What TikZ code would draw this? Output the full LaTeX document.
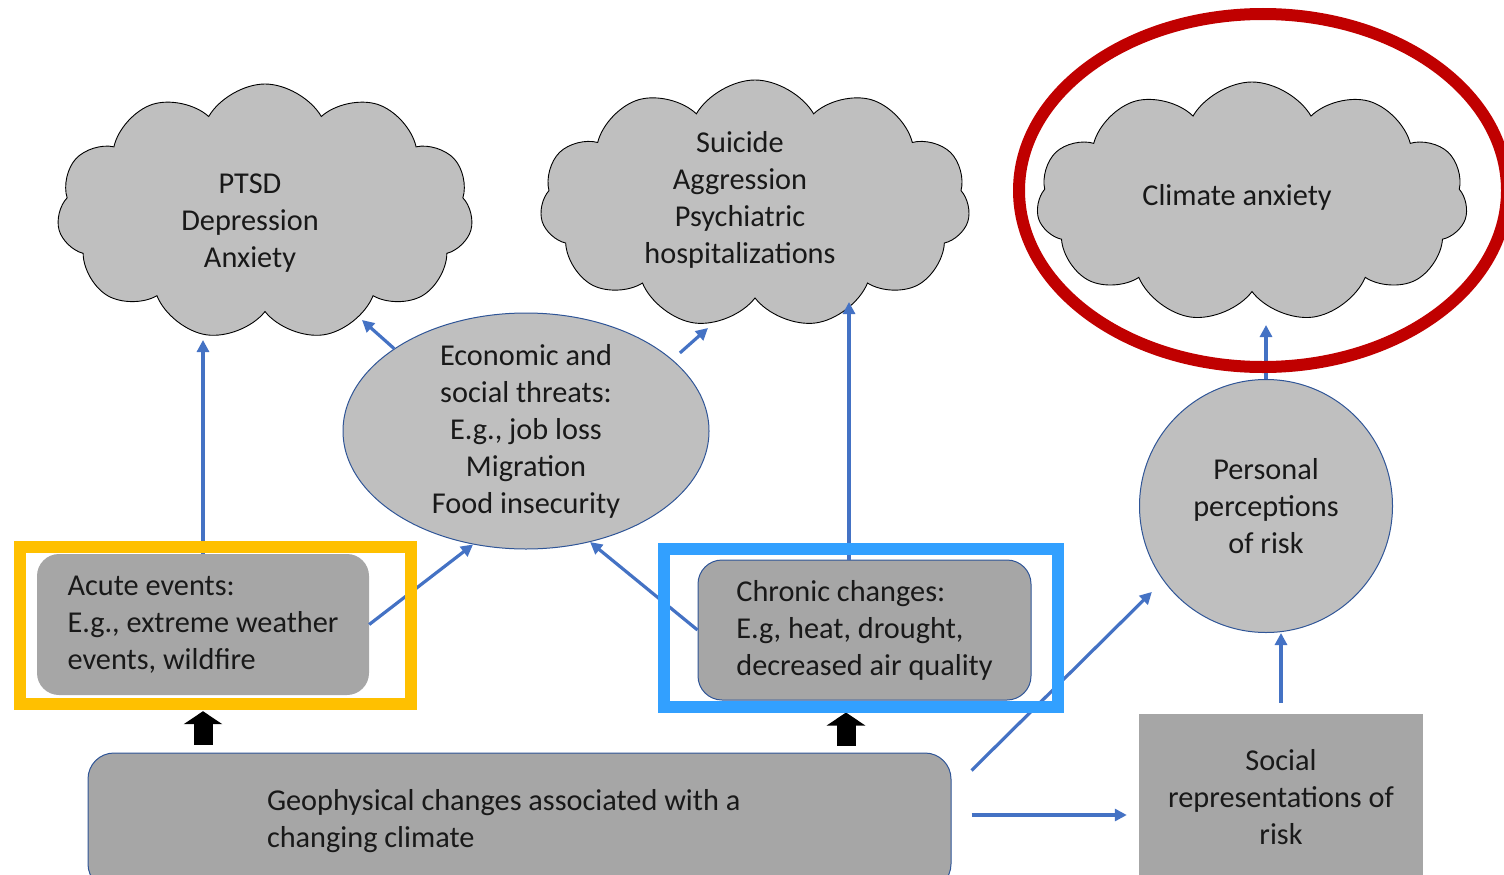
\documentclass[tikz,border=0pt]{standalone}
\usepackage{fontspec}
\setmainfont{Carlito}
\usepackage{tikz}
\usetikzlibrary{calc, arrows.meta, shapes.symbols, shapes.geometric}

\definecolor{cloudgray}{HTML}{BFBFBF}
\definecolor{boxgray}{HTML}{A6A6A6}
\definecolor{linkblue}{HTML}{4472C4}
\definecolor{edgeblue}{HTML}{2F5597}
\definecolor{markred}{HTML}{C00000}
\definecolor{markyellow}{HTML}{FFC000}
\definecolor{markblue}{RGB}{50,160,255}

\begin{document}
\begin{tikzpicture}[x=1pt,y=-1pt,
    txt/.style={align=center, text=black!90, font=\fontsize{30.3}{37}\selectfont},
    puff/.style={cloud, cloud puffs=11, cloud puff arc=120, draw=black, line width=0.9pt, fill=cloudgray, inner sep=0pt},
    bubble/.style={txt, draw=edgeblue, line width=1pt, fill=cloudgray, inner sep=-10pt},
    box/.style={txt, fill=boxgray, inner sep=0pt},
    link/.style={linkblue, line width=3.2pt, -{Triangle[length=12pt,width=12pt]}},
    bigarrow/.style={black, line width=19pt, -{Triangle[length=13pt,width=38pt]}},
    highlight/.style={line width=12pt}]
      \useasboundingbox (0,0) rectangle (1504,875);
      % clouds
      \node[puff, minimum width=416pt, minimum height=256pt] (ptsd) at (265,212) {};
      \node[txt] (ptsdtxt) at (250,223) {PTSD\\Depression\\Anxiety};
      \node[puff, minimum width=430pt, minimum height=248pt] (suicide) at (755,204) {};
      \node[txt] (suicidetxt) at (740,200) {Suicide\\Aggression\\Psychiatric\\hospitalizations};
      \node[puff, minimum width=431pt, minimum height=240pt] (climate) at (1252,202) {};
      \node[txt] (climatetxt) at (1237,197) {Climate anxiety};
      % ellipse and circle
      \node[bubble, ellipse, minimum width=366pt, minimum height=236pt] (econ) at (526,431) {Economic and\\social threats:\\E.g., job loss\\Migration\\Food insecurity};
      \node[bubble, circle, inner sep=0pt, minimum size=253pt] (pers) at (1266,506) {Personal\\perceptions\\of risk};
      % boxes
      \node[box, rounded corners=22pt, minimum width=332pt, minimum height=141pt, align=left] (acute) at (203,624.5) {Acute events:\\E.g., extreme weather\\events, wildfire};
      \node[box, draw=edgeblue, line width=1pt, rounded corners=24pt, minimum width=333pt, minimum height=140pt, align=left] (chronic) at (864.5,630) {Chronic changes:\\E.g, heat, drought,\\decreased air quality};
      \node[box, draw=edgeblue, line width=1pt, rounded corners=26pt, minimum width=863pt, minimum height=137pt, text width=505pt, align=flush left] (geo) at (519.5,821.5) {Geophysical changes associated with a\\changing climate};
      \node[box, minimum width=284pt, minimum height=166pt] (social) at (1281,797) {Social\\representations of\\risk};
      % arrow tips that stop short
      \coordinate (ptsdtip) at (362,320);
      \coordinate (suicidetip) at (708,328);
      % blue links
      \draw[link, shorten >=128pt] (acute) -- (acute |- ptsd.center);
      \draw[link] (econ.148) -- (ptsdtip);
      \draw[link, shorten <=10pt] (econ.26) -- (suicidetip);
      \draw[link, shorten >=98pt] ($(chronic.north)+(-15.5,0)$) coordinate (c) -- (c |- suicide.center);
      \draw[link] (acute.east) -- (econ.245);
      \draw[link] (chronic.west) -- (econ.300);
      \draw[link, shorten >=16pt] ($(geo.north east)+(20,18)$) -- (pers.216);
      \draw[link, shorten >=12pt] ($(geo.east)+(20,-6.5)$) coordinate (g) -- (g -| social.west);
      \draw[link] ($(social.north)+(0,-11)$) coordinate (s) -- (s |- pers.south);
      \draw[link, shorten >=123pt] (pers) -- (pers |- climate.center);
      % black block arrows
      \draw[bigarrow, shorten <=8pt, shorten >=16pt] (acute |- geo.north) -- (acute);
      \path ($(chronic.south)+(-18.5,0)$) coordinate (k);
      \draw[bigarrow, shorten <=7pt, shorten >=12pt] (k |- geo.north) -- (k);
      % highlight frames
      \draw[highlight, markyellow] ([shift={(-17,-7)}]acute.north west) rectangle ([shift={(42,9)}]acute.south east);
      \draw[highlight, markblue] ([shift={(-34,-11)}]chronic.north west) rectangle ([shift={(26,6)}]chronic.south east);
      \draw[highlight, markred] ([shift={(11,-11.5)}]climate.center) ellipse [x radius=244pt, y radius=176.5pt];
\end{tikzpicture}
\end{document}
